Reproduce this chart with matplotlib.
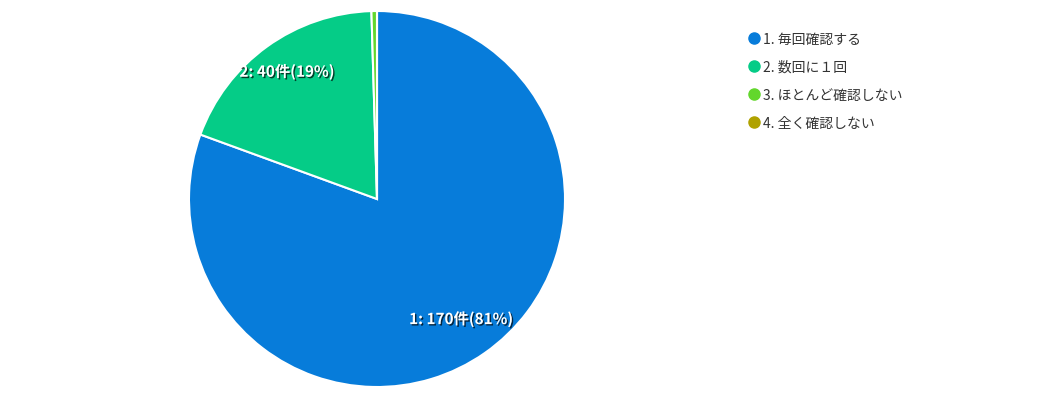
import matplotlib
matplotlib.use('Agg')
import matplotlib.pyplot as plt
import matplotlib.patheffects as pe
from matplotlib.lines import Line2D

plt.rcParams['font.family'] = ['Noto Sans CJK JP', 'DejaVu Sans']

categories = ['1. 毎回確認する', '2. 数回に１回', '3. ほとんど確認しない', '4. 全く確認しない']
short_ids = ['1', '2', '3', '4']
counts = [170, 40, 1, 0]
colors = ['#077cda', '#05cc87', '#62d72c', '#b0a200']

total = sum(counts)
labels = []
for sid, c in zip(short_ids, counts):
    pct = c / total * 100
    labels.append(f'{sid}: {c}件({pct:.0f}%)' if pct >= 5 else '')

fig = plt.figure(figsize=(10.37, 4.02), dpi=100)
W, H = 1037, 402
cx, cy, r = 377, 200, 188
ax = fig.add_axes([(cx - r) / W, (H - cy - r) / H, 2 * r / W, 2 * r / H])

wedges, texts = ax.pie(counts, colors=colors, labels=labels, startangle=90,
                       counterclock=False, labeldistance=0.78, radius=1.0,
                       wedgeprops=dict(edgecolor='white', linewidth=1.5))
# label 2 sits a little further out in the reference
x2, y2 = texts[1].get_position()
texts[1].set_position((x2 * 1.05, y2 * 1.07))
for t in texts:
    t.set_color('white')
    t.set_fontsize(11)
    t.set_fontweight('bold')
    t.set_ha('center')
    t.set_va('center')
    t.set_path_effects([pe.SimplePatchShadow(offset=(1, -1), shadow_rgbFace='black', alpha=0.7),
                        pe.Normal()])
ax.set_xlim(-1, 1)
ax.set_ylim(-1, 1)
ax.set_aspect('equal')
ax.axis('off')

handles = [Line2D([], [], marker='o', linestyle='', markersize=8,
                  markerfacecolor=col, markeredgecolor=col) for col in colors]
leg = fig.legend(handles, categories, loc='upper left',
                 bbox_to_anchor=(748 / W, 1 - 33 / H), frameon=False,
                 fontsize=10, labelspacing=1.0, handlelength=0.8,
                 handletextpad=0.3, borderpad=0, borderaxespad=0)
for t in leg.get_texts():
    t.set_color('#333333')

fig.savefig('out.png', dpi=100)
